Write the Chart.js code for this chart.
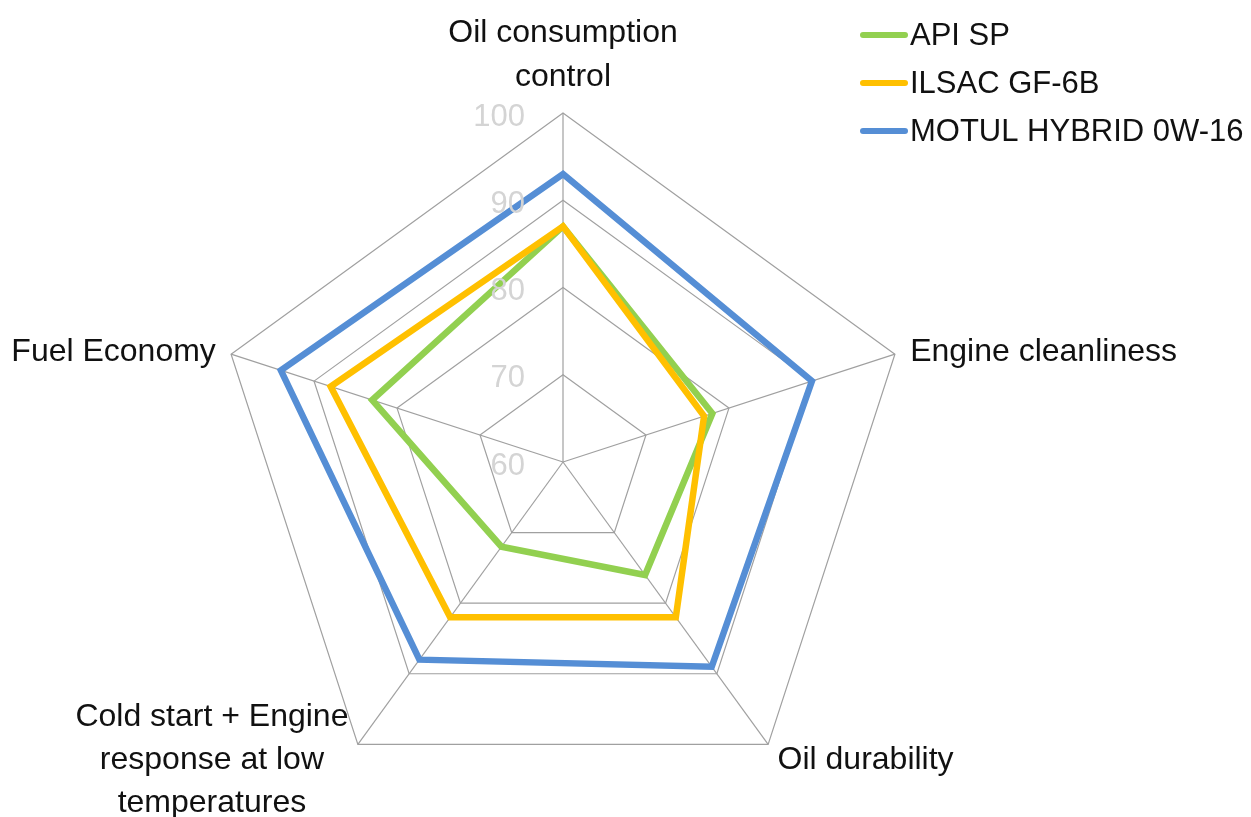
<!DOCTYPE html>
<html lang="en">

<head>
  <meta charset="UTF-8">
  <meta name="viewport" content="width=device-width, initial-scale=1.0">
  <script src="https://cdn.jsdelivr.net/npm/chart.js"></script>
  <title>Radar</title>
  <style>
    body { margin: 0; background: #fff; }
    #grafico { display: block; }
  </style>
</head>

<body>
  <canvas id="grafico" width="1251" height="817"></canvas>
</body>

</html>
<script>
  const categorias = [
    ['Oil consumption', 'control'],
    ['Engine cleanliness'],
    ['Oil durability'],
    ['Cold start + Engine', 'response at low', 'temperatures'],
    ['Fuel Economy']
  ];
  const apiSp = [87, 78, 76, 72, 83];
  const ilsacGf6b = [87, 77, 82, 82, 88];
  const motulHybrid = [93, 90, 89, 88, 94];
  const marcasEixo = [60, 70, 80, 90, 100];

  // valores do eixo e nomes das categorias, desenhados a partir da escala
  const rotulosEixos = {
    id: 'rotulosEixos',
    afterDraw(chart) {
      const ctx = chart.ctx;
      const escala = chart.scales.r;
      ctx.save();

      ctx.font = '31px "Liberation Sans"';
      ctx.fillStyle = '#d4d4d4';
      ctx.textAlign = 'right';
      ctx.textBaseline = 'middle';
      escala.ticks.forEach(function (tick) {
        var y = escala.yCenter - escala.getDistanceFromCenterForValue(tick.value);
        ctx.fillText(String(tick.value), escala.xCenter - 38, y + 4);
      });

      ctx.font = '32px "Liberation Sans"';
      ctx.fillStyle = '#111';
      ctx.textAlign = 'center';
      chart.data.labels.forEach(function (linhas, i) {
        var p = escala.getPointPosition(i, escala.drawingArea + 16);
        var largura = Math.max(...linhas.map(l => ctx.measureText(l).width));
        var dx = p.x - escala.xCenter;
        var x = p.x;
        if (dx > 5) x = p.x + largura / 2;
        else if (dx < -5) x = p.x - largura / 2;

        if (p.y < escala.yCenter - escala.drawingArea / 2) {
          // rótulo do topo fica acima do vértice
          ctx.textBaseline = 'alphabetic';
          for (let j = 0; j < linhas.length; j++) {
            ctx.fillText(linhas[j], x, p.y - 11 - (linhas.length - 1 - j) * 44);
          }
        } else {
          ctx.textBaseline = 'middle';
          for (let j = 0; j < linhas.length; j++) {
            ctx.fillText(linhas[j], x, p.y + 3 + (j - (linhas.length - 1) / 2) * 43);
          }
        }
      });
      ctx.restore();
    }
  };

  const legenda = {
    id: 'legenda',
    afterDraw(chart) {
      const ctx = chart.ctx;
      ctx.save();
      ctx.font = '31px "Liberation Sans"';
      ctx.textAlign = 'left';
      ctx.textBaseline = 'middle';
      chart.data.datasets.forEach(function (ds, i) {
        var y = 35 + i * 48;
        ctx.strokeStyle = ds.borderColor;
        ctx.lineWidth = 6;
        ctx.lineCap = 'round';
        ctx.beginPath();
        ctx.moveTo(863, y);
        ctx.lineTo(905, y);
        ctx.stroke();
        ctx.fillStyle = '#111';
        ctx.fillText(ds.label, 910, y + 1);
      });
      ctx.restore();
    }
  };

  let dados = {
    labels: categorias,
    datasets: [{
      label: 'API SP',
      data: apiSp,
      borderColor: '#92D050',
      order: 2
    },
    {
      label: 'ILSAC GF-6B',
      data: ilsacGf6b,
      borderColor: '#FFC000',
      order: 1
    },
    {
      label: 'MOTUL HYBRID 0W-16',
      data: motulHybrid,
      borderColor: '#558ED5',
      order: 0
    }]
  };

  dados.datasets.forEach(function (ds) {
    ds.borderWidth = 6.5;
    ds.fill = false;
    ds.pointRadius = 0;
    ds.pointHoverRadius = 0;
    ds.tension = 0;
  });

  var options = {
    responsive: false,
    devicePixelRatio: 1,
    animation: false,
    layout: {
      padding: { left: 214, top: 113, right: 339, bottom: 6 }
    },
    plugins: {
      legend: { display: false },
      tooltip: { enabled: false }
    },
    scales: {
      r: {
        min: marcasEixo[0],
        max: marcasEixo[marcasEixo.length - 1],
        ticks: { display: false, stepSize: marcasEixo[1] - marcasEixo[0] },
        pointLabels: { display: false },
        grid: { color: '#a0a0a0', lineWidth: 1.2 },
        angleLines: { color: '#a0a0a0', lineWidth: 1.2 }
      }
    }
  };

  const config = {
    type: 'radar',
    data: dados,
    options: options,
    plugins: [rotulosEixos, legenda]
  };

  let grafico = new Chart(document.getElementById('grafico'), config);
</script>
